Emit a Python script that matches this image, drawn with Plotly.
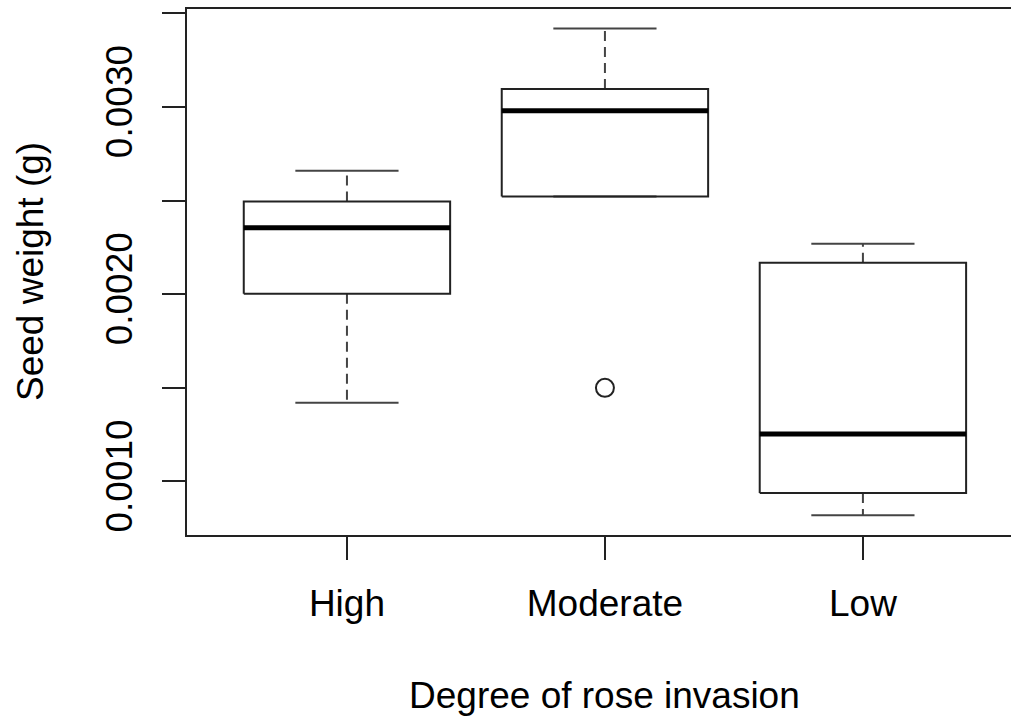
import plotly.graph_objects as go

groups = ["High", "Moderate", "Low"]
positions = [1, 2, 3]
lower_whisker = [0.00142, 0.002523, 0.00082]
q1 = [0.002003, 0.002523, 0.000938]
median = [0.002356, 0.002981, 0.001254]
q3 = [0.002495, 0.003097, 0.002168]
upper_whisker = [0.00266, 0.00342, 0.00227]
outlier_pos = [2]
outlier_val = [0.0015]

y_tickvals = [0.0010, 0.0015, 0.0020, 0.0025, 0.0030, 0.0035]
y_ticktext = ["0.0010", "", "0.0020", "", "0.0030", ""]

BOX_HALF = 0.4
CAP_HALF = 0.2
FONT = "Liberation Sans, Arial, sans-serif"
LINE = "#222222"

fig = go.Figure()

for p, lw, a, m, b, uw in zip(positions, lower_whisker, q1, median, q3, upper_whisker):
    # whiskers (dashed)
    fig.add_trace(go.Scatter(x=[p, p, None, p, p], y=[b, uw, None, a, lw], mode="lines",
                             line=dict(color="#444444", width=2, dash="10px,6px"),
                             hoverinfo="skip", showlegend=False))
    # staples
    fig.add_trace(go.Scatter(x=[p - CAP_HALF, p + CAP_HALF, None, p - CAP_HALF, p + CAP_HALF],
                             y=[uw, uw, None, lw, lw], mode="lines",
                             line=dict(color="#444444", width=2),
                             hoverinfo="skip", showlegend=False))
    # box
    fig.add_trace(go.Scatter(x=[p - BOX_HALF, p + BOX_HALF, p + BOX_HALF, p - BOX_HALF, p - BOX_HALF],
                             y=[a, a, b, b, a], mode="lines",
                             line=dict(color=LINE, width=2),
                             hoverinfo="skip", showlegend=False))
    # median
    fig.add_trace(go.Scatter(x=[p - BOX_HALF, p + BOX_HALF], y=[m, m], mode="lines",
                             line=dict(color="#000000", width=5),
                             hoverinfo="skip", showlegend=False))

fig.add_trace(go.Scatter(x=outlier_pos, y=outlier_val, mode="markers",
                         marker=dict(symbol="circle-open", size=18, color=LINE, line=dict(width=2)),
                         hoverinfo="skip", showlegend=False))

fig.update_layout(
    width=1011, height=717,
    margin=dict(l=187, r=0, t=9, b=182, pad=0),
    paper_bgcolor="white", plot_bgcolor="white",
    font=dict(family=FONT, size=37, color="black"),
    xaxis=dict(range=[0.38, 3.574], tickvals=positions, ticktext=groups,
               showgrid=False, zeroline=False, showline=True, mirror=True,
               linecolor=LINE, linewidth=2, ticks="outside", ticklen=23, tickwidth=2,
               tickcolor=LINE, ticklabelstandoff=12),
    yaxis=dict(range=[0.000714, 0.003524], tickvals=y_tickvals, ticktext=y_ticktext,
               tickangle=-90, showgrid=False, zeroline=False, showline=True, mirror=False,
               linecolor=LINE, linewidth=2, ticks="outside", ticklen=23, tickwidth=2,
               tickcolor=LINE, ticklabelstandoff=15),
    annotations=[
        dict(text="Degree of rose invasion", xref="x", x=2, yref="paper", y=-0.3045,
             xanchor="center", yanchor="middle", showarrow=False,
             font=dict(family=FONT, size=37, color="black")),
        dict(text="Seed weight (g)", xref="paper", x=-0.1905, yref="paper", y=0.5,
             xanchor="center", yanchor="middle", textangle=-90, showarrow=False,
             font=dict(family=FONT, size=37, color="black")),
    ],
)

fig.write_html("out.html")
